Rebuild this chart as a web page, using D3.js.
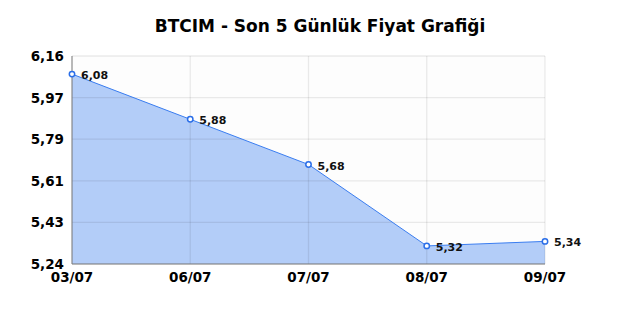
<!DOCTYPE html>
<html>
<head>
<meta charset="utf-8">
<script src="https://cdn.jsdelivr.net/npm/d3@7"></script>
<style>
body { margin: 0; background: #fff; }
svg text { font-family: "DejaVu Sans", sans-serif; }
</style>
</head>
<body>
<svg id="chart" width="640" height="320"></svg>
<script>
var title = "BTCIM - Son 5 Günlük Fiyat Grafiği"
var days = ["03/07", "06/07", "07/07", "08/07", "09/07"]
var prices = [6.08, 5.88, 5.68, 5.32, 5.34]
var priceLabels = ["6,08", "5,88", "5,68", "5,32", "5,34"]
var yTicks = [5.24, 5.424, 5.608, 5.792, 5.976, 6.16]
var yTickLabels = ["5,24", "5,43", "5,61", "5,79", "5,97", "6,16"]

var svg = d3.select("#chart")
var plotLeft = 72, plotRight = 545, plotTop = 56, plotBottom = 264

var x = d3.scalePoint()
	.domain(days)
	.range([plotLeft, plotRight])

var y = d3.scaleLinear()
	.domain([5.24, 6.16])
	.range([plotBottom, plotTop])

svg.append("text")
	.attr("x", 320)
	.attr("y", 32)
	.attr("text-anchor", "middle")
	.attr("font-size", 17)
	.attr("font-weight", "bold")
	.text(title)

svg.append("rect")
	.attr("x", plotLeft).attr("y", plotTop)
	.attr("width", plotRight - plotLeft).attr("height", plotBottom - plotTop)
	.attr("fill", "#fdfdfd")

var pts = days.map((d, i) => ({day: d, v: prices[i], label: priceLabels[i]}))

svg.append("path")
	.datum(pts)
	.attr("fill", "#b3cdf8")
	.attr("d", d3.area().x(d => x(d.day)).y0(plotBottom).y1(d => y(d.v)))

// grid, drawn translucent over the fill
svg.append("g")
	.selectAll("line")
	.data(yTicks)
	.join("line")
	.attr("x1", plotLeft).attr("x2", plotRight)
	.attr("y1", d => y(d)).attr("y2", d => y(d))
	.attr("stroke", "#000")
	.attr("stroke-opacity", 0.08)
	.attr("stroke-width", 1.3)

svg.append("g")
	.selectAll("line")
	.data(days)
	.join("line")
	.attr("x1", d => x(d)).attr("x2", d => x(d))
	.attr("y1", plotTop).attr("y2", plotBottom)
	.attr("stroke", "#000")
	.attr("stroke-opacity", 0.08)
	.attr("stroke-width", 1.3)

svg.append("path")
	.datum(pts)
	.attr("fill", "none")
	.attr("stroke", "#3a7df0")
	.attr("stroke-width", 1)
	.attr("d", d3.line().x(d => x(d.day)).y(d => y(d.v)))

// axes
svg.append("line")
	.attr("x1", plotLeft).attr("x2", plotLeft)
	.attr("y1", plotTop).attr("y2", plotBottom)
	.attr("stroke", "#808080")
svg.append("line")
	.attr("x1", plotLeft).attr("x2", plotRight)
	.attr("y1", plotBottom).attr("y2", plotBottom)
	.attr("stroke", "#808080")

svg.append("g")
	.selectAll("text")
	.data(yTicks)
	.join("text")
	.attr("x", 64)
	.attr("y", d => y(d) + 5)
	.attr("text-anchor", "end")
	.attr("font-size", 13.5)
	.attr("font-weight", "bold")
	.text((d, i) => yTickLabels[i])

svg.append("g")
	.selectAll("text")
	.data(days)
	.join("text")
	.attr("x", d => x(d))
	.attr("y", 282)
	.attr("text-anchor", "middle")
	.attr("font-size", 13.5)
	.attr("font-weight", "bold")
	.text(d => d)

svg.append("g")
	.selectAll("circle")
	.data(pts)
	.join("circle")
	.attr("cx", d => x(d.day))
	.attr("cy", d => y(d.v))
	.attr("r", 2.7)
	.attr("fill", "#fff")
	.attr("stroke", "#2a6ee8")
	.attr("stroke-width", 1.5)

svg.append("g")
	.selectAll("text")
	.data(pts)
	.join("text")
	.attr("x", d => x(d.day) + 9)
	.attr("y", d => y(d.v) + 5)
	.attr("font-size", 11)
	.attr("font-weight", "bold")
	.attr("fill", "#111")
	.text(d => d.label)
</script>
</body>
</html>
